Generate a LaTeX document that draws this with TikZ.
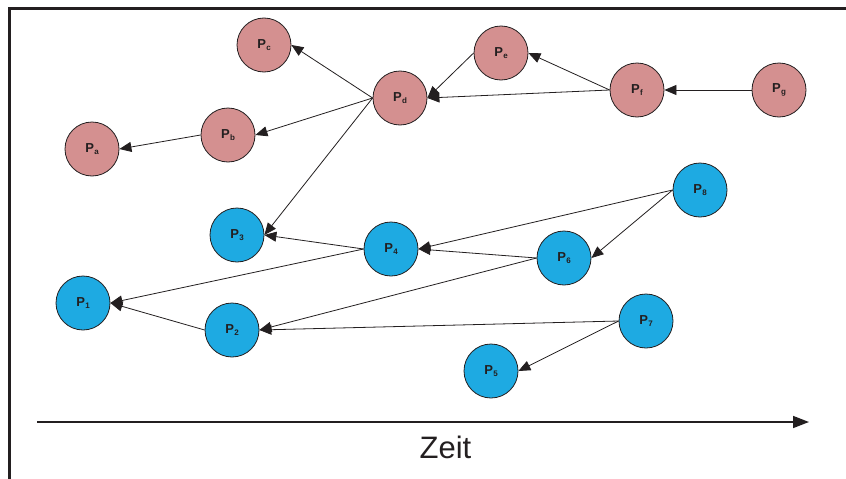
\documentclass[tikz,border=0pt]{standalone}
\usepackage{fontspec}
\setmainfont{Liberation Sans}
\usetikzlibrary{arrows.meta}
\definecolor{pinkfill}{RGB}{212,144,144}
\definecolor{bluefill}{RGB}{30,170,226}
\definecolor{edgegray}{RGB}{35,31,32}
\newcommand\plab[1]{\fontsize{13}{13}\selectfont\bfseries P\kern0.3pt\raisebox{-2pt}{\fontsize{8}{8}\selectfont #1}}
\begin{document}
\begin{tikzpicture}[x=1pt,y=-1pt,
  proc/.style={circle,draw=edgegray,line width=0.8pt,minimum size=54pt,inner sep=0pt,text=edgegray},
  pnode/.style={proc,fill=pinkfill},
  bnode/.style={proc,fill=bluefill},
  conn/.style={draw=edgegray,line width=0.8pt,-{Triangle[length=12pt,width=10pt]}}]
\useasboundingbox (0,0) rectangle (846,479);
\fill[white] (0,0) rectangle (846,479);
\draw[edgegray,line width=3pt] (9,482) -- (9,8) -- (849,8);
% pink nodes
\node[pnode] (pc) at (264,45) {\plab{c}};
\node[pnode] (pe) at (501,53) {\plab{e}};
\node[pnode] (pd) at (400,98) {\plab{d}};
\node[pnode] (pf) at (637,90) {\plab{f}};
\node[pnode] (pg) at (779,90) {\plab{g}};
\node[pnode] (pb) at (228,135) {\plab{b}};
\node[pnode] (pa) at (92,149) {\plab{a}};
% blue nodes
\node[bnode] (p8) at (700,190) {\plab{8}};
\node[bnode] (p3) at (237,235) {\plab{3}};
\node[bnode] (p4) at (391,249) {\plab{4}};
\node[bnode] (p6) at (564,258) {\plab{6}};
\node[bnode] (p1) at (83,303) {\plab{1}};
\node[bnode] (p2) at (232,330) {\plab{2}};
\node[bnode] (p7) at (646,321) {\plab{7}};
\node[bnode] (p5) at (491,371) {\plab{5}};
% connectors
\draw[conn] (pd.west) -- (pc.east);
\draw[conn] (pe.west) -- (pd.east);
\draw[conn] (pf.west) -- (pd.east);
\draw[conn] (pf.west) -- (pe.east);
\draw[conn] (pg.west) -- (pf.east);
\draw[conn] (pd.west) -- (pb.east);
\draw[conn] (pb.west) -- (pa.east);
\draw[conn] (pd.west) -- (p3.east);
\draw[conn] (p4.west) -- (p3.east);
\draw[conn] (p8.west) -- (p4.east);
\draw[conn] (p8.west) -- (p6.east);
\draw[conn] (p6.west) -- (p4.east);
\draw[conn] (p4.west) -- (p1.east);
\draw[conn] (p6.west) -- (p2.east);
\draw[conn] (p7.west) -- (p2.east);
\draw[conn] (p2.west) -- (p1.east);
\draw[conn] (p7.west) -- (p5.east);
% time axis
\coordinate (t0) at (37,422);
\coordinate (t1) at (809,422);
\draw[edgegray,line width=1.6pt,-{Triangle[length=16pt,width=12pt]}] (t0) -- (t1);
\node[text=edgegray,font=\fontsize{31}{31}\selectfont] (zeit) at (445.5,447) {Zeit};
\end{tikzpicture}
\end{document}
